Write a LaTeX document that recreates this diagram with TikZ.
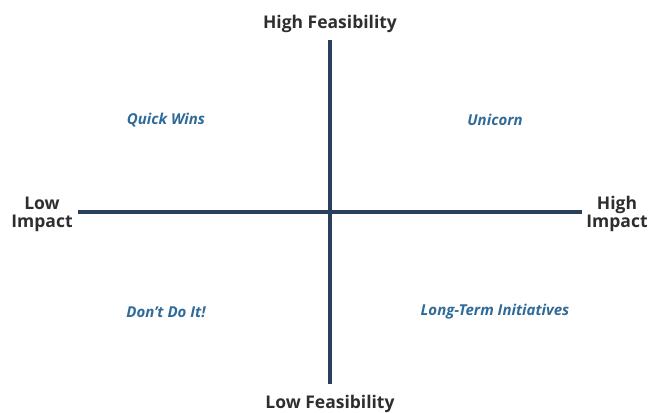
\documentclass[tikz,border=0pt]{standalone}
\usepackage{fontspec}
\setmainfont{Open Sans}
\usepackage{tikz}

\definecolor{axisnavy}{HTML}{2A3F5B}
\definecolor{quadblue}{HTML}{2F6A98}

\begin{document}
\begin{tikzpicture}[x=1pt,y=-1pt,
  axislabel/.style={font=\bfseries\fontsize{17.5}{18}\selectfont,text=black!82,align=center,inner sep=0pt},
  quadrant/.style={font=\bfseries\itshape\fontsize{15}{17}\selectfont,text=quadblue}]
\useasboundingbox (0,0) rectangle (652,412);

% axes
\coordinate (top) at (330,40);
\coordinate (bottom) at (330,384);
\coordinate (left) at (78,212);
\coordinate (right) at (582,212);
\draw[line width=4pt,color=axisnavy] (top) -- (bottom);
\draw[line width=4pt,color=axisnavy] (left) -- (right);

% axis labels
\node[axislabel] (highfeas) at (330,24) {High Feasibility};
\node[axislabel] (lowfeas) at (330,404) {Low Feasibility};
\node[axislabel] (lowimp) at (42,214) {Low\\Impact};
\node[axislabel] (highimp) at (617,214) {High\\Impact};

% quadrants
\node[quadrant] (quickwins) at (166,120) {Quick Wins};
\node[quadrant] (unicorn) at (495,120) {Unicorn};
\node[quadrant] (dontdo) at (166,312) {Don’t Do It!};
\node[quadrant] (longterm) at (495,312) {Long-Term Initiatives};
\end{tikzpicture}
\end{document}
